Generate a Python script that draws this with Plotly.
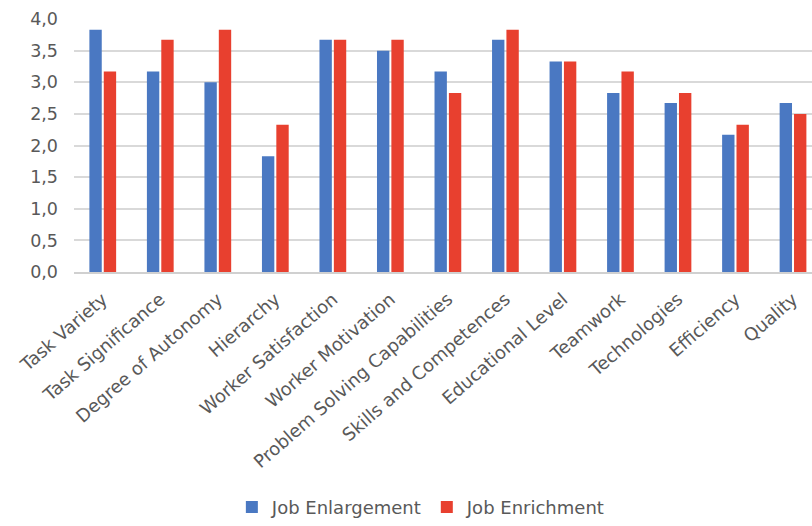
import plotly.graph_objects as go

categories = ["Task Variety", "Task Significance", "Degree of Autonomy", "Hierarchy",
              "Worker Satisfaction", "Worker Motivation", "Problem Solving Capabilities",
              "Skills and Competences", "Educational Level", "Teamwork", "Technologies",
              "Efficiency", "Quality"]
job_enlargement = [3.83, 3.17, 3.00, 1.83, 3.67, 3.50, 3.17, 3.67, 3.33, 2.83, 2.67, 2.17, 2.67]
job_enrichment = [3.17, 3.67, 3.83, 2.33, 3.67, 3.67, 2.83, 3.83, 3.33, 3.17, 2.83, 2.33, 2.50]
y_ticks = [0, 0.5, 1.0, 1.5, 2.0, 2.5, 3.0, 3.5, 4.0]

BLUE = "#4a78c2"
RED = "#e8402f"
TEXT = "#595959"
FONT = "DejaVu Sans, Arial, sans-serif"

fig = go.Figure()
fig.add_trace(go.Bar(x=categories, y=job_enlargement, name="Job Enlargement",
                     marker=dict(color=BLUE, line=dict(width=0))))
fig.add_trace(go.Bar(x=categories, y=job_enrichment, name="Job Enrichment",
                     marker=dict(color=RED, line=dict(width=0))))

fig.update_layout(
    width=812, height=526,
    margin=dict(l=74, r=0, t=19, b=252),
    paper_bgcolor="white", plot_bgcolor="white",
    separators=",.",
    barmode="group", bargap=0.5, bargroupgap=0.14,
    font=dict(family=FONT, color=TEXT, size=17),
    showlegend=True,
    legend=dict(orientation="h", x=0.47, xanchor="center", y=-0.93, yanchor="middle",
                font=dict(size=18, color=TEXT, family=FONT), itemwidth=30,
                traceorder="normal"),
    xaxis=dict(range=[-0.5, 12.33], tickangle=-41, showgrid=False,
               showline=True, linecolor="#d0d0d0", linewidth=1.5,
               ticks="", tickfont=dict(size=18, color=TEXT, family=FONT),
               ticklabelstandoff=8),
    yaxis=dict(range=[0, 4.0], tickvals=y_ticks, tickformat=".1f",
               showgrid=True, gridcolor="#d9d9d9", gridwidth=1.5,
               zeroline=False, showline=False, ticks="",
               tickfont=dict(size=17.5, color=TEXT, family=FONT),
               ticklabelstandoff=15),
)

fig.write_html("out.html")
